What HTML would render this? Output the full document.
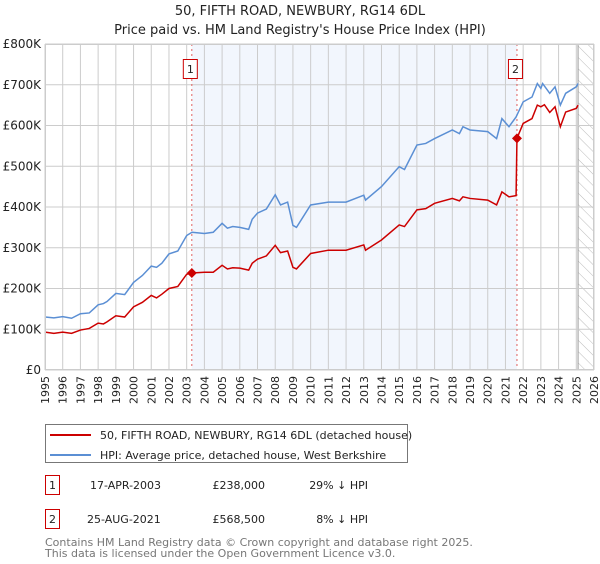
<!DOCTYPE html>
<html><head><meta charset="utf-8"><style>
body{margin:0;background:#fff;font-family:"DejaVu Sans","Liberation Sans",sans-serif;}
svg text{font-family:"DejaVu Sans","Liberation Sans",sans-serif;}
</style></head><body>
<svg id="chart" width="600" height="560" xmlns="http://www.w3.org/2000/svg">
<text x="300" y="15" text-anchor="middle" font-size="13" fill="#222">50, FIFTH ROAD, NEWBURY, RG14 6DL</text>
<text x="300" y="34" text-anchor="middle" font-size="13" fill="#222">Price paid vs. HM Land Registry's House Price Index (HPI)</text>
<defs><pattern id="hatch" patternUnits="userSpaceOnUse" width="8" height="8" patternTransform="rotate(-45)"><line x1="0" y1="0" x2="0" y2="8" stroke="#bbb" stroke-width="1"/></pattern></defs>
<g id="plot"></g>
<g>
<rect x="45.5" y="424.5" width="362" height="38" fill="#fff" stroke="#777"/>
<line x1="50" y1="435" x2="91" y2="435" stroke="#cc0000" stroke-width="2"/>
<text x="100" y="439" font-size="11" fill="#222">50, FIFTH ROAD, NEWBURY, RG14 6DL (detached house)</text>
<line x1="50" y1="455" x2="91" y2="455" stroke="#5b8fd4" stroke-width="2"/>
<text x="100" y="459" font-size="11" fill="#222">HPI: Average price, detached house, West Berkshire</text>
</g>
<g font-size="11" fill="#222">
<rect x="45.5" y="475.5" width="14" height="19" fill="#fff" stroke="#cc0000"/>
<text x="52.5" y="489" text-anchor="middle">1</text>
<text x="90" y="489">17-APR-2003</text>
<text x="265" y="489" text-anchor="end">£238,000</text>
<text x="368" y="489" text-anchor="end">29% ↓ HPI</text>
</g>
<g font-size="11" fill="#222">
<rect x="45.5" y="509.5" width="14" height="19" fill="#fff" stroke="#cc0000"/>
<text x="52.5" y="523" text-anchor="middle">2</text>
<text x="87" y="523">25-AUG-2021</text>
<text x="265" y="523" text-anchor="end">£568,500</text>
<text x="368" y="523" text-anchor="end">8% ↓ HPI</text>
</g>
<text x="45" y="546" font-size="11" fill="#777">Contains HM Land Registry data © Crown copyright and database right 2025.</text>
<text x="45" y="557" font-size="11" fill="#777">This data is licensed under the Open Government Licence v3.0.</text>
</svg>
<script>
const hpiYears=[1995,1995.5,1996,1996.5,1997,1997.5,1998,1998.3,1998.5,1999,1999.5,2000,2000.5,2001,2001.3,2001.6,2002,2002.5,2003,2003.3,2004,2004.5,2005,2005.3,2005.6,2006,2006.5,2006.7,2007,2007.5,2008,2008.3,2008.7,2009,2009.2,2010,2011,2012,2013,2013.1,2014,2015,2015.3,2016,2016.5,2017,2018,2018.4,2018.6,2019,2020,2020.5,2020.8,2021.2,2021.6,2022,2022.5,2022.8,2023,2023.1,2023.5,2023.8,2024.1,2024.4,2025,2025.1];
const hpiValues=[130,128,131,127,138,140,160,163,168,188,185,215,232,255,252,262,285,292,330,338,335,338,360,348,352,350,345,370,385,395,430,405,412,355,350,405,412,412,429,417,450,499,492,552,556,568,589,580,597,589,585,568,617,597,621,658,670,703,691,703,679,695,650,679,695,703];
const ppYears=[1995,1995.5,1996,1996.5,1997,1997.5,1998,1998.3,1998.5,1999,1999.5,2000,2000.5,2001,2001.3,2001.6,2002,2002.5,2003,2003.29,2004,2004.5,2005,2005.3,2005.6,2006,2006.5,2006.7,2007,2007.5,2008,2008.3,2008.7,2009,2009.2,2010,2011,2012,2013,2013.1,2014,2015,2015.3,2016,2016.5,2017,2018,2018.4,2018.6,2019,2020,2020.5,2020.8,2021.2,2021.6,2021.65,2022,2022.5,2022.8,2023,2023.2,2023.5,2023.8,2024.1,2024.4,2025,2025.1];
const ppValues=[93,90,93,90,98,102,115,113,118,133,130,155,166,183,177,186,200,205,235,238,240,240,257,248,251,250,245,262,272,280,306,288,292,252,248,286,294,294,307,294,319,356,352,393,396,409,421,415,425,421,417,405,437,425,428,568.5,605,617,650,646,651,632,646,597,633,642,650];
const saleYears=[2003.29,2021.65];
const saleValues=[238,568.5];
const saleLabels=["1","2"];
const yTicks=[0,100,200,300,400,500,600,700,800];
const yTickLabels=["£0","£100K","£200K","£300K","£400K","£500K","£600K","£700K","£800K"];
const xTicks=[1995,1996,1997,1998,1999,2000,2001,2002,2003,2004,2005,2006,2007,2008,2009,2010,2011,2012,2013,2014,2015,2016,2017,2018,2019,2020,2021,2022,2023,2024,2025,2026];
const hatchStart=2025.1;

const L=45,R=594,T=44,B=370,x0=1995,x1=2026,yMax=800;
const X=v=>L+(v-x0)/(x1-x0)*(R-L);
const Y=v=>B-v/yMax*(B-T);
const NS="http://www.w3.org/2000/svg";
const g=document.getElementById('plot');
function mk(tag,attrs,parent){const e=document.createElementNS(NS,tag);for(const k in attrs)e.setAttribute(k,attrs[k]);(parent||g).appendChild(e);return e;}
const bg=mk('rect',{x:L,y:T,width:R-L,height:B-T,fill:'#fff'});


const sh=mk('rect',{x:X(saleYears[0]),y:T,width:X(saleYears[1])-X(saleYears[0]),height:B-T,fill:'#eef3fc',opacity:0.75});


const ht=mk('rect',{x:X(hatchStart),y:T,width:R-X(hatchStart),height:B-T,fill:'url(#hatch)'});


mk('line',{x1:X(hatchStart),y1:T,x2:X(hatchStart),y2:B,stroke:'#999','stroke-width':1});
xTicks.forEach(t=>{
  const l=mk('line',{x1:X(t),y1:T,x2:X(t),y2:B,stroke:'#ccc','stroke-width':1});
  
  
  const tx=mk('text',{x:0,y:0,transform:`translate(${X(t)+4},${B+6}) rotate(-90)`,'text-anchor':'end','font-size':11,fill:'#222'});
  tx.textContent=t;
  
  
});
yTicks.forEach((t,i)=>{
  const l=mk('line',{x1:L,y1:Y(t),x2:R,y2:Y(t),stroke:'#ccc','stroke-width':1});
  
  
  const tx=mk('text',{x:L-4,y:Y(t)+4,'text-anchor':'end','font-size':12,fill:'#222'});
  tx.textContent=yTickLabels[i];
  
  
});
saleYears.forEach((s,i)=>{
  const l=mk('line',{x1:X(s),y1:T,x2:X(s),y2:B,stroke:'#e06060','stroke-width':1,'stroke-dasharray':'2,3'});
  
  
  const bx=mk('rect',{x:X(s)-8.5,y:T+15.5,width:14,height:19,fill:'#fff',stroke:'#cc0000'});
  
  
  const tx=mk('text',{x:X(s)-1.5,y:T+29,'text-anchor':'middle','font-size':11,fill:'#222'});
  tx.textContent=saleLabels[i];
  
  
});
const hp=mk('polyline',{points:hpiYears.map((y,i)=>X(y)+','+Y(hpiValues[i])).join(' '),fill:'none',stroke:'#5b8fd4','stroke-width':1.5});


const pp=mk('polyline',{points:ppYears.map((y,i)=>X(y)+','+Y(ppValues[i])).join(' '),fill:'none',stroke:'#cc0000','stroke-width':1.5});


saleYears.forEach((s,i)=>{
  const d=mk('path',{d:`M${X(s)},${Y(saleValues[i])-5}l5,5l-5,5l-5,-5z`,fill:'#cc0000'});
  
  
});
mk('rect',{x:L+0.5,y:T+0.5,width:R-L-1,height:B-T-1,fill:'none',stroke:'#ccc'});
</script>
</body></html>
